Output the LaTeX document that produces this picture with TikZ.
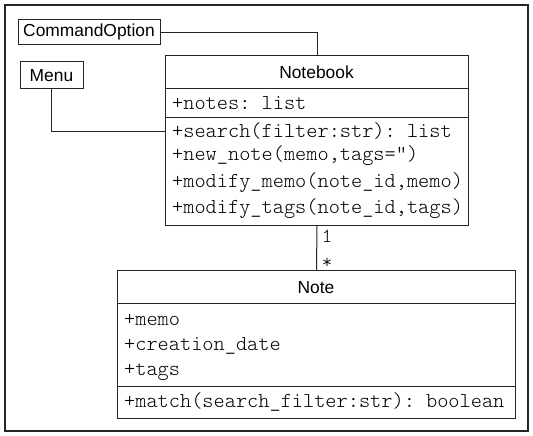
\documentclass[tikz,border=0pt]{standalone}
\usepackage{fontspec}
\setmainfont{Liberation Sans}
\setmonofont{Latin Modern Mono Light}
\begin{document}
\begin{tikzpicture}[x=1pt,y=-1pt,
  box/.style={draw=black!85,line width=1pt,inner sep=0pt},
  title/.style={font=\fontsize{17.4}{20}\selectfont,inner sep=0pt},
  member/.style={font=\fontsize{21.3}{22}\ttfamily,anchor=west,inner sep=0pt},
  link/.style={draw=black!85,line width=1pt},
  mult/.style={font=\fontsize{20}{22}\ttfamily,inner sep=0pt}]
\useasboundingbox (0,0) rectangle (533,436);
\draw[line width=1.3pt,black!85] (5,5) rectangle (528,431);
% small boxes
\node[box,minimum width=142pt,minimum height=25pt] (co) at (89,32.5) {};
\node[title] (cot) at (co.center) {CommandOption};
\node[box,minimum width=63pt,minimum height=27pt] (menu) at (51.5,75.5) {};
\node[title] (menut) at (menu.center) {Menu};
% Notebook
\node[box,minimum width=303pt,minimum height=170pt,anchor=north west] (nb) at (165,55) {};
\draw[link] (165,89) -- (468,89);
\draw[link] (165,117) -- (468,117);
\node[title] (nbt) at (316.5,72) {Notebook};
\node[member] (nb1) at (172,103) {+notes: list};
\node[member] (nb2) at (172,131) {+search(filter:str): list};
\node[member] (nb3) at (172,156) {+new\_note(memo,tags=")};
\node[member] (nb4) at (172,182.5) {+modify\_memo(note\_id,memo)};
\node[member] (nb5) at (172,209) {+modify\_tags(note\_id,tags)};
% Note
\node[box,minimum width=398pt,minimum height=148pt,anchor=north west] (note) at (117,270) {};
\draw[link] (117,303) -- (515,303);
\draw[link] (117,386) -- (515,386);
\node[title] (notet) at (316,288) {Note};
\node[member] (n1) at (124,320) {+memo};
\node[member] (n2) at (124,346) {+creation\_date};
\node[member] (n3) at (124,372) {+tags};
\node[member] (n4) at (124,402) {+match(search\_filter:str): boolean};
% connectors
\coordinate (nbm) at (165,131);
\draw[link] (co.east) -| (nb.north);
\draw[link] (menu.south) |- (nbm);
\draw[link] (nb.south) -- (note.north);
\node[mult] (m1) at (327,236) {1};
\node[mult] (m2) at (327,263) {*};
\end{tikzpicture}
\end{document}
